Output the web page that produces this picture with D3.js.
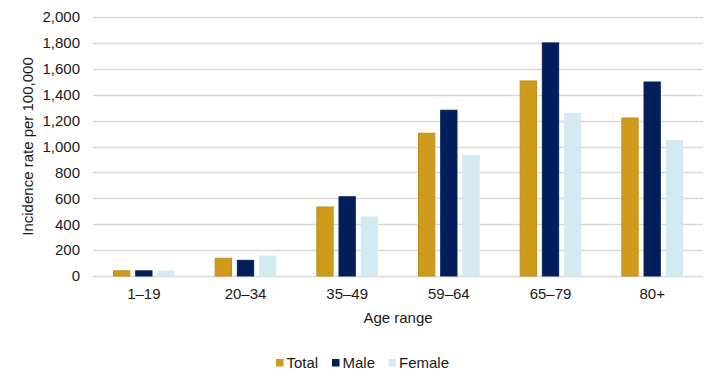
<!DOCTYPE html>
<html lang="en">
<head>
  <meta charset="UTF-8">
  <title>Incidence rate by age range</title>
  <script src="https://cdn.jsdelivr.net/npm/d3@7"></script>
  <style>
    body { margin: 0; background: #fff; }
    text { font-family: "Liberation Sans", Arial, sans-serif; fill: #1a1a1a; }
  </style>
</head>
<body>
<script>
  // data
  const ageRanges = ["1\u201319", "20\u201334", "35\u201349", "59\u201364", "65\u201379", "80+"];
  const seriesNames = ["Total", "Male", "Female"];
  const total = [40, 137, 533, 1102, 1506, 1220];
  const male = [40, 121, 612, 1280, 1800, 1498];
  const female = [39, 154, 456, 932, 1256, 1048];
  const yTicks = [0, 200, 400, 600, 800, 1000, 1200, 1400, 1600, 1800, 2000];

  const colors = { Total: "#D09A1C", Male: "#021F5C", Female: "#D4EAF3" };
  const strokes = { Total: "#C38E17", Male: "#0A2260", Female: "#D4EAF3" };

  const width = 720, height = 385;
  const margin = { top: 17, right: 17, bottom: 109, left: 93 };
  const innerW = width - margin.left - margin.right;
  const innerH = height - margin.top - margin.bottom;
  const fs = 15;

  const svg = d3.select("body").append("svg")
    .attr("width", width)
    .attr("height", height);
  const g = svg.append("g")
    .attr("transform", "translate(" + margin.left + "," + margin.top + ")");

  const x = d3.scaleBand().domain(ageRanges).range([0, innerW]);
  const x1 = d3.scaleBand().domain(seriesNames)
    .range([20, x.bandwidth() - 20]).paddingInner(0.22);
  const y = d3.scaleLinear().domain([0, 2000]).range([innerH, 0]);

  // gridlines
  g.append("g")
    .selectAll("line")
    .data(yTicks)
    .enter()
    .append("line")
    .attr("x1", 0).attr("x2", innerW)
    .attr("y1", d => Math.round(y(d)) + 0.5)
    .attr("y2", d => Math.round(y(d)) + 0.5)
    .attr("stroke", "#D9D9D9")
    .attr("stroke-width", 1.3);

  // y labels
  const yAxis = g.append("g")
    .call(d3.axisLeft(y).tickValues(yTicks).tickFormat(d3.format(",")).tickSize(0).tickPadding(13));
  yAxis.select(".domain").remove();
  yAxis.selectAll("text").attr("font-size", fs).style("font-family", "Liberation Sans, Arial, sans-serif").attr("fill", "#1a1a1a");

  // x labels
  const xAxis = g.append("g")
    .attr("transform", "translate(0," + innerH + ")")
    .call(d3.axisBottom(x).tickSize(0).tickPadding(12));
  xAxis.select(".domain").remove();
  xAxis.selectAll("text").attr("font-size", fs).style("font-family", "Liberation Sans, Arial, sans-serif").attr("fill", "#1a1a1a");

  // bars
  const rows = ageRanges.map((a, i) => ({ age: a, Total: total[i], Male: male[i], Female: female[i] }));
  const groups = g.append("g")
    .selectAll("g")
    .data(rows)
    .enter()
    .append("g")
    .attr("transform", d => "translate(" + x(d.age) + ",0)");
  groups.selectAll("rect")
    .data(d => seriesNames.map(s => ({ key: s, value: d[s] })))
    .enter()
    .append("rect")
    .attr("x", d => x1(d.key) + 0.5)
    .attr("y", d => y(d.value))
    .attr("width", x1.bandwidth() - 1)
    .attr("height", d => innerH - y(d.value))
    .attr("fill", d => colors[d.key])
    .attr("stroke", d => strokes[d.key])
    .attr("stroke-width", 1);

  // axis titles
  svg.append("text")
    .attr("transform", "translate(33," + (margin.top + innerH / 2) + ") rotate(-90)")
    .attr("text-anchor", "middle")
    .attr("font-size", fs)
    .text("Incidence rate per 100,000");
  svg.append("text")
    .attr("x", margin.left + innerW / 2)
    .attr("y", 323)
    .attr("text-anchor", "middle")
    .attr("font-size", fs)
    .text("Age range");

  // legend
  const legendX = [276, 332, 388.5];
  const legend = svg.append("g")
    .selectAll("g")
    .data(seriesNames)
    .enter()
    .append("g")
    .attr("transform", (d, i) => "translate(" + legendX[i] + ",359)");
  legend.append("rect")
    .attr("width", 7.5).attr("height", 7.5)
    .attr("fill", d => colors[d]);
  legend.append("text")
    .attr("x", 10.5)
    .attr("y", 8.8)
    .attr("font-size", fs)
    .text(d => d);
</script>
</body>
</html>
